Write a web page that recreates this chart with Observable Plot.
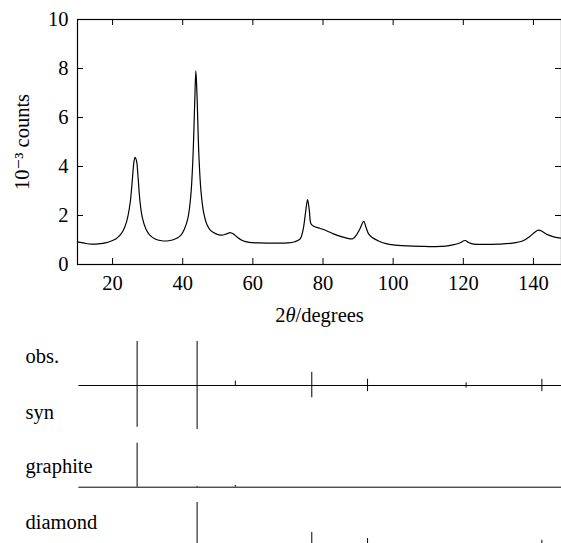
<!DOCTYPE html>
<html>
<head>
<meta charset="utf-8">
<script src="https://cdn.jsdelivr.net/npm/d3@7"></script>
<script src="https://cdn.jsdelivr.net/npm/@observablehq/plot@0.6"></script>
<style>
  html, body { margin: 0; padding: 0; background: white; }
  #chart svg { display: block; }
  #chart svg, #chart svg g, #chart svg text, #chart svg tspan {
    font-family: "Liberation Serif", "DejaVu Serif", serif !important;
  }
</style>
</head>
<body>
<div id="chart"></div>
<script>
// ---- data ----
const curveAngle = [10,12,14,16,18,20,21,22,23,24,25,25.6,26.1,26.4,26.8,27.3,27.8,28.5,29.5,30.5,32,34,36,38,39.5,40.5,41.5,42.3,42.9,43.4,43.75,44.1,44.6,45.2,46,47,48,49.5,51,52.5,53.5,54.5,55.5,57,59,62,66,70,72,73.5,74.3,75,75.6,76.1,76.6,77.5,79,81,83,85,87,88.5,89.5,90.5,91.6,92.3,93,94,96,98,100,104,108,112,115,117,119,120.5,121.5,123,126,130,134,137,139,140.5,141.5,142.5,144,146,148];
const curveCounts = [0.92,0.87,0.83,0.84,0.88,0.98,1.05,1.18,1.38,1.75,2.5,3.4,4.2,4.37,4.25,3.5,2.6,1.9,1.45,1.22,1.05,0.97,0.97,1.05,1.2,1.45,1.9,2.8,4.3,6.5,7.9,6.8,4.5,3.0,2.1,1.6,1.38,1.25,1.2,1.25,1.3,1.24,1.12,0.98,0.9,0.88,0.87,0.88,0.93,1.05,1.4,2.1,2.65,2.2,1.65,1.55,1.48,1.38,1.25,1.15,1.07,1.05,1.2,1.45,1.76,1.5,1.25,1.1,0.95,0.85,0.8,0.76,0.74,0.73,0.75,0.8,0.88,0.98,0.9,0.83,0.82,0.83,0.87,0.97,1.15,1.33,1.4,1.35,1.22,1.12,1.07];
const xTicks = [20,40,60,80,100,120,140];
const yTicks = [0,2,4,6,8,10];
const reflAngle   = [27.0, 44.1, 55.0, 76.8, 92.7, 120.8, 142.4];
const obsInt      = [100, 100, 10, 30, 14, 6, 14];
const synInt      = [95, 100, 0, 28, 14, 6, 14];
const graphiteInt = [100, 2, 4, 0, 0, 0, 0];
const diamondInt  = [0, 100, 0, 32, 18, 4, 14];
const rowLabels = ["obs.", "syn", "graphite", "diamond"];
const xLabel = "2θ/degrees";
const yLabel = "10⁻³ counts";

// ---- layout ----
const FONT = "'Liberation Serif', 'DejaVu Serif', serif";
const FS = 20.5;
const xDom = [10, 148], yDom = [0, 10];
const topL = {h: 330, ml: 77, mr: 0, mt: 19, mb: 66};
const pxPerX = (561 - topL.ml - topL.mr) / (xDom[1] - xDom[0]);
const pxPerY = (topL.h - topL.mt - topL.mb) / (yDom[1] - yDom[0]);
const tk = 6;

const curve = curveAngle.map((a, i) => ({a, c: curveCounts[i]}));
const inner = yTicks.filter(v => v > yDom[0] && v < yDom[1]);
const txt = {fontSize: FS, fill: "black"};

const topPlot = Plot.plot({
  width: 561, height: topL.h,
  marginLeft: topL.ml, marginRight: topL.mr, marginTop: topL.mt, marginBottom: topL.mb,
  x: {domain: xDom, axis: null},
  y: {domain: yDom, axis: null},
  style: {fontSize: FS + "px", color: "black", background: "white", overflow: "visible"},
  marks: [
    Plot.frame({stroke: "black", strokeWidth: 1.2}),
    Plot.ruleX(xTicks, {x: d => d, y1: yDom[0], y2: yDom[0] + tk / pxPerY, stroke: "black"}),
    Plot.ruleX(xTicks, {x: d => d, y1: yDom[1], y2: yDom[1] - tk / pxPerY, stroke: "black"}),
    Plot.ruleY(inner, {y: d => d, x1: xDom[0], x2: xDom[0] + tk / pxPerX, stroke: "black"}),
    Plot.ruleY(inner, {y: d => d, x1: xDom[1], x2: xDom[1] - tk / pxPerX, stroke: "black"}),
    Plot.line(curve, {x: "a", y: "c", stroke: "black", strokeWidth: 1.2, curve: "catmull-rom"}),
    Plot.text(xTicks, {...txt, x: d => d, frameAnchor: "bottom", dy: 19, text: d => String(d), textAnchor: "middle", lineAnchor: "middle"}),
    Plot.text(yTicks, {...txt, y: d => d, frameAnchor: "left", dx: -9, text: d => String(d), textAnchor: "end", lineAnchor: "middle"}),
    Plot.text([xLabel], {...txt, frameAnchor: "bottom", dy: 51, text: d => d, textAnchor: "middle", lineAnchor: "middle"}),
    Plot.text([yLabel], {...txt, frameAnchor: "left", dx: -55, rotate: -90, text: d => d, textAnchor: "middle", lineAnchor: "middle"})
  ]
});

// ---- bottom stick panels ----
const botH = 220;
const off = 330 - 320;
const k = 0.44; // px per intensity unit
const rows = [
  {label: rowLabels[0], base: 65 - off, ly: 36 - off},
  {label: rowLabels[1], base: 65 - off, ly: 92 - off},
  {label: rowLabels[2], base: 166.7 - off, ly: 146 - off},
  {label: rowLabels[3], base: 226 - off, ly: 202 - off}
];
function sticks(ints, base, dir) {
  return reflAngle.map((a, i) => ({a, i: ints[i]})).filter(d => d.i > 0)
    .map(d => ({a: d.a, y1: base, y2: base - dir * d.i * k}));
}
const stickData = [
  ...sticks(obsInt, rows[0].base, 1),
  ...sticks(synInt, rows[1].base, -1),
  ...sticks(graphiteInt, rows[2].base, 1),
  ...sticks(diamondInt, rows[3].base, 1)
];
const bases = [rows[0].base, rows[2].base, rows[3].base];

const botPlot = Plot.plot({
  width: 561, height: botH,
  marginLeft: topL.ml, marginRight: 0, marginTop: 0, marginBottom: 0,
  x: {domain: xDom, axis: null},
  y: {domain: [0, botH], range: [0, botH], axis: null},
  style: {fontSize: FS + "px", color: "black", background: "white", overflow: "visible"},
  marks: [
    Plot.ruleY(bases, {y: d => d, x1: 10.4, x2: xDom[1], stroke: "black", strokeWidth: 1}),
    Plot.ruleX(stickData, {x: "a", y1: "y1", y2: "y2", stroke: "black", strokeWidth: 1}),
    Plot.text(rows, {...txt, x: () => xDom[0], y: "ly", dx: -52, text: "label", textAnchor: "start", lineAnchor: "middle"})
  ]
});

const root = document.getElementById("chart");
root.append(topPlot, botPlot);

// serif font on every text node, italic theta in x label
d3.selectAll("#chart svg, #chart svg g, #chart svg text").attr("font-family", FONT).style("font-family", FONT);
topPlot.querySelectorAll("text").forEach(t => {
  if (t.textContent === xLabel) {
    t.innerHTML = '2<tspan font-style="italic">θ</tspan>/degrees';
  }
});
</script>
</body>
</html>
